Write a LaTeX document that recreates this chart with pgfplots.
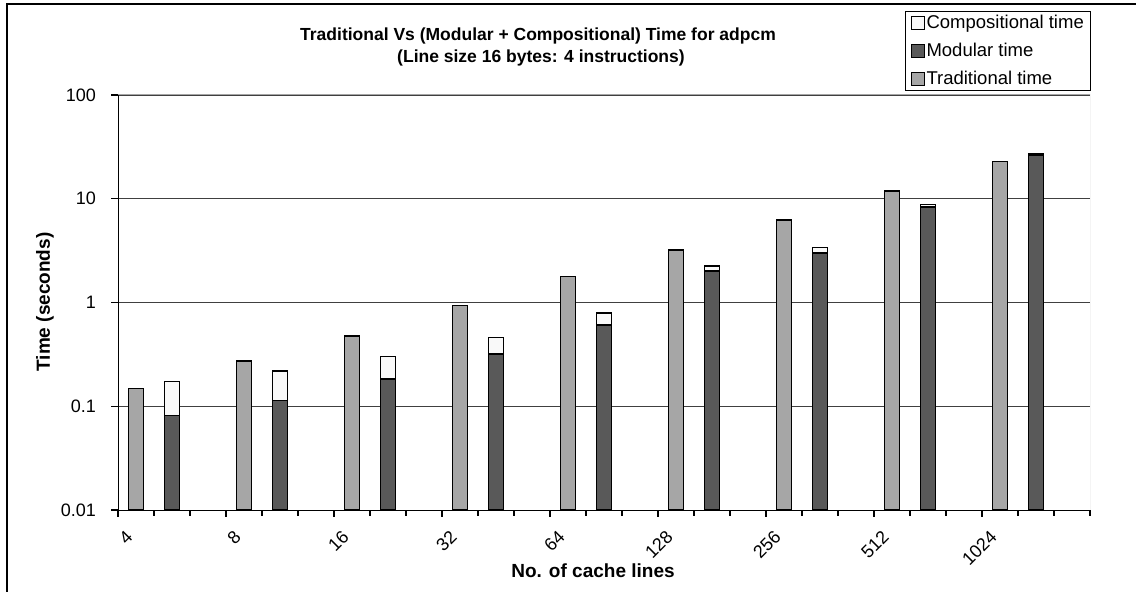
\documentclass[border=0pt]{standalone}
\usepackage{fontspec}
\setmainfont{Liberation Sans}
\usepackage{pgfplots}
\pgfplotsset{compat=1.18}

\definecolor{tradgray}{HTML}{A6A6A6}
\definecolor{modgray}{HTML}{595959}
\definecolor{compwhite}{HTML}{F9F9F9}

\newcommand{\tickfont}{\fontsize{18}{20}\selectfont}
\newcommand{\labfont}{\fontsize{19}{22}\selectfont\bfseries}

\pgfplotsset{
  mybar/.style={ybar, bar width=15pt, bar shift=0pt, draw=black, line width=1.4pt,
    legend image code/.code={\draw[##1, line width=1pt] (0pt,-6.5pt) rectangle (13pt,6.5pt);}},
}

\begin{document}
\begin{tikzpicture}[x=1pt,y=1pt]
\path[use as bounding box] (0,0) rectangle (1136,592);
\draw[line width=1.3pt] (7,0) -- (7,588) -- (1136,588);

\begin{axis}[
  at={(118pt,82pt)}, anchor=south west,
  width=972pt, height=415pt, scale only axis,
  ymode=log, ymin=0.01, ymax=100, log origin=infty,
  xmin=-0.5, xmax=26.5,
  axis x line=bottom, axis y line=left,
  axis line style={-, black, line width=1pt},
  tick style={black, line width=1.2pt},
  xtick align=outside, ytick align=outside,
  major tick length=7pt, minor tick length=6pt,
  ytick={0.01,0.1,1,10,100},
  yticklabels={0.01,0.1,1,10,100},
  yminorticks=false,
  yticklabel style={font=\tickfont, anchor=east, inner sep=0pt, xshift=-15pt},
  xtick={-0.5,2.5,...,23.5},
  minor xtick={0.5,1.5,3.5,4.5,6.5,7.5,9.5,10.5,12.5,13.5,15.5,16.5,18.5,19.5,21.5,22.5,24.5,25.5,26.5},
  xticklabels={4,8,16,32,64,128,256,512,1024},
  xticklabel style={font=\tickfont, inner sep=0pt, xshift=7pt, yshift=-12pt, rotate=45, anchor=north east},
  ymajorgrids, grid style={black!75, line width=0.8pt},
  legend style={at={(0.8097,1.2024)}, anchor=north west, draw=black, line width=1pt,
    fill=white, font=\fontsize{18.5}{22}\selectfont, inner xsep=5pt, inner ysep=2pt,
    row sep=9pt, cells={anchor=west}},
  legend cell align=left,
]
% compositional drawn as the total height (modular + compositional)
\addplot[mybar, fill=compwhite] coordinates {
  (1,0.174) (4,0.2185) (7,0.303) (10,0.457) (13,0.795)
  (16,2.25) (19,3.39) (22,8.85) (25,27.0)
};
\addlegendentry{Compositional time}
\addplot[mybar, fill=modgray] coordinates {
  (1,0.0812) (4,0.1132) (7,0.183) (10,0.318) (13,0.608)
  (16,2.01) (19,3.0) (22,8.3) (25,26.2)
};
\addlegendentry{Modular time}
\addplot[mybar, fill=tradgray] coordinates {
  (0,0.1476) (3,0.2727) (6,0.474) (9,0.936) (12,1.77)
  (15,3.21) (18,6.26) (21,11.9) (24,23.0)
};
\addlegendentry{Traditional time}

\draw[gray!70, line width=1pt] (rel axis cs:0,1) -- (rel axis cs:1,1) -- (rel axis cs:1,0);
\end{axis}

\node[font=\fontsize{17.5}{20}\selectfont\bfseries, anchor=base] at (538,551)
  {Traditional Vs (Modular + Compositional) Time for adpcm};
\node[font=\fontsize{17.5}{20}\selectfont\bfseries, anchor=base] at (541,529)
  {(Line size 16 bytes: 4 instructions)};
\node[font=\labfont, rotate=90] at (45,290) {Time (seconds)};
\node[font=\labfont, anchor=base] at (593,14) {No. of cache lines};
\end{tikzpicture}
\end{document}
